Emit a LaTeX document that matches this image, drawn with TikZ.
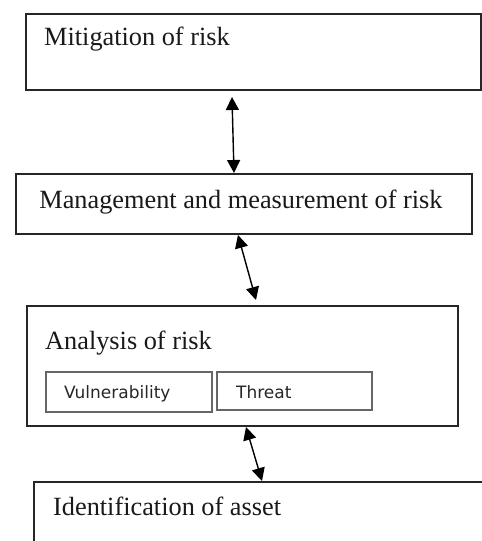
\documentclass[tikz,border=0pt]{standalone}
\usepackage{fontspec}
\setmainfont{Liberation Serif}
\newfontfamily\boxsans{DejaVu Sans}
\usetikzlibrary{arrows.meta}
\begin{document}
\begin{tikzpicture}[x=1pt,y=-1pt,
  bigbox/.style={draw=black!85, line width=2pt, rectangle, inner sep=0pt, anchor=north west},
  smallbox/.style={draw=black!60, line width=1.6pt, rectangle, inner sep=0pt, anchor=north west},
  txt/.style={inner sep=0pt, anchor=base west, text=black!90, font=\fontsize{26.3}{30}\selectfont},
  stxt/.style={inner sep=0pt, anchor=base west, text=black!85, font=\boxsans\fontsize{17}{20}\selectfont},
  link/.style={line width=1.4pt, {Triangle[length=13pt,width=13pt]}-{Triangle[length=13pt,width=13pt]}}]
\useasboundingbox (0,0) rectangle (482,541);
\clip (0,0) rectangle (482,541);
\fill[white] (0,0) rectangle (482,541);
% boxes
\node[bigbox, minimum width=455pt, minimum height=76pt] (b1) at (25,13) {};
\node[bigbox, minimum width=456pt, minimum height=60pt] (b2) at (15,173) {};
\node[bigbox, minimum width=431pt, minimum height=120pt] (b3) at (26,305) {};
\node[smallbox, minimum width=166pt, minimum height=40pt] (vul) at (45,371) {};
\node[smallbox, minimum width=155pt, minimum height=38pt] (thr) at (216,371) {};
\node[bigbox, minimum width=480pt, minimum height=90pt] (b4) at (33,481) {};
% texts
\node[txt] (t1) at (44,45) {Mitigation of risk};
\node[txt, anchor=base] (t2) at (241,208) {Management and measurement of risk};
\node[txt] (t3) at (45,349) {Analysis of risk};
\node[stxt] (t4) at (64,398) {Vulnerability};
\node[stxt] (t5) at (236,398) {Threat};
\node[txt] (t6) at (53,515) {Identification of asset};
% connectors
\coordinate (a1t) at (232,97);
\coordinate (a1b) at (234,172);
\coordinate (a2t) at (238,235);
\coordinate (a2b) at (256,300);
\coordinate (a3t) at (246,427);
\coordinate (a3b) at (262,480);
\draw[link] (a1t) -- (a1b |- b2.north);
\draw[link] (a2t) -- (a2b);
\draw[link] (a3t) -- (a3b |- b4.north);
\end{tikzpicture}
\end{document}
